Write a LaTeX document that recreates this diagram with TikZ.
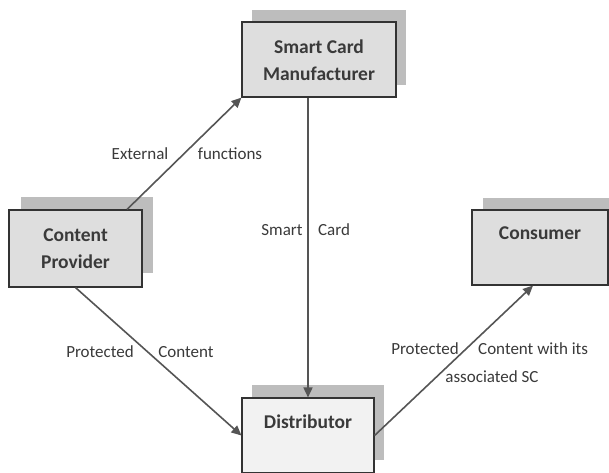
\documentclass[tikz,border=0pt]{standalone}
\usepackage{fontspec}
\setmainfont{Carlito}
\usetikzlibrary{arrows.meta,calc}
\definecolor{boxfill}{HTML}{DEDEDE}
\definecolor{boxlight}{HTML}{F2F2F2}
\definecolor{shadowgray}{HTML}{BDBDBD}
\definecolor{linegray}{HTML}{555555}
\definecolor{textgray}{HTML}{3A3A3A}
\tikzset{
  box/.style={draw=black!80, line width=1.1pt, fill=boxfill, rectangle, inner sep=0pt},
  shadowbox/.style={fill=shadowgray, draw=none, rectangle, inner sep=0pt},
  boxtext/.style={font=\fontsize{19.5}{27}\selectfont\bfseries, text=textgray, anchor=base, inner sep=0pt},
  lbl/.style={font=\fontsize{17}{26}\selectfont, text=textgray, inner sep=0pt},
  conn/.style={draw=linegray, line width=1.6pt, -{Triangle[length=10pt,width=9pt]}}
}
\begin{document}
\begin{tikzpicture}[x=1pt,y=-1pt]
\useasboundingbox (0,0) rectangle (609,472);
\clip (0,0) rectangle (609,472);
\fill[white] (0,0) rectangle (609,472);
% shadows
\node[shadowbox, minimum width=154pt, minimum height=75pt] (scmS) at (329,47.5) {};
\node[shadowbox, minimum width=132pt, minimum height=76pt] (cpS) at (87,235) {};
\node[shadowbox, minimum width=136pt, minimum height=75pt] (conS) at (551,235.5) {};
\node[shadowbox, minimum width=132pt, minimum height=75pt] (distS) at (318,422.5) {};
% boxes
\node[box, minimum width=154pt, minimum height=75pt] (scm) at (319,59.5) {};
\node[box, minimum width=133pt, minimum height=77pt] (cp) at (75.5,248.5) {};
\node[box, minimum width=136pt, minimum height=75pt] (con) at (540,247.5) {};
\node[box, fill=boxlight, minimum width=132pt, minimum height=75pt] (dist) at (308,435.5) {};
% box texts
\node[boxtext] (scmT1) at ([yshift=-32pt]scm.north) {Smart Card};
\node[boxtext] (scmT2) at ([yshift=-59pt]scm.north) {Manufacturer};
\node[boxtext] (cpT1) at ([yshift=-32pt]cp.north) {Content};
\node[boxtext] (cpT2) at ([yshift=-59pt]cp.north) {Provider};
\node[boxtext] (conT) at ([yshift=-30pt]con.north) {Consumer};
\node[boxtext] (distT) at ([yshift=-31pt]dist.north) {Distributor};
% connectors
\draw[conn] ([xshift=51.5pt]cp.north) -- (scm.south west);
\draw[conn] (scm.south -| dist.north) -- (dist.north);
\draw[conn] (cp.south) -- (dist.west);
\draw[conn] (dist.east) -- ([xshift=-7pt]con.south);
% labels
\node[lbl] (l1) at (140,154) {External};
\node[lbl] (l2) at (230,154) {functions};
\node[lbl] (l3) at (282,230) {Smart};
\node[lbl] (l4) at (334,230) {Card};
\node[lbl] (l5) at (100,352) {Protected};
\node[lbl] (l6) at (186,352) {Content};
\node[lbl] (l7) at (425,349) {Protected};
\node[lbl, anchor=west] (l8) at (478,349) {Content with its};
\node[lbl] (l9) at (492,377) {associated SC};
\end{tikzpicture}
\end{document}
